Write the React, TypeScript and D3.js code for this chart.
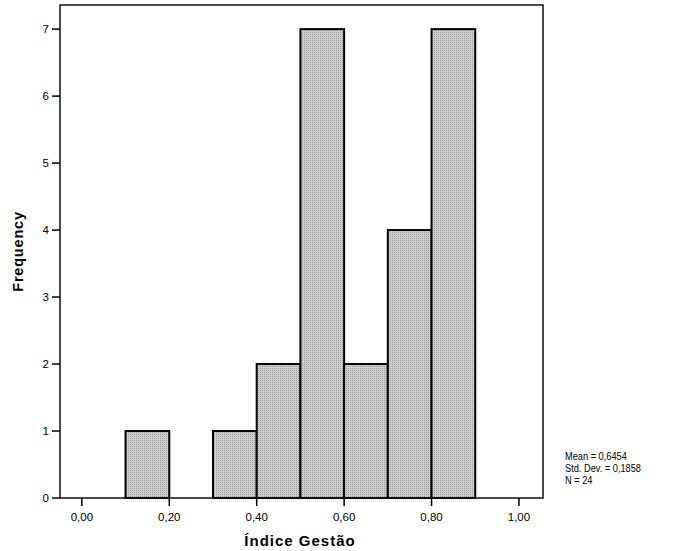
import React from "react";
import * as d3 from "d3";

const binStarts = [0.1, 0.3, 0.4, 0.5, 0.6, 0.7, 0.8];
const binWidth = 0.1;
const frequencies = [1, 1, 2, 7, 2, 4, 7];
const xTicks = [0, 0.2, 0.4, 0.6, 0.8, 1.0];
const yTicks = [0, 1, 2, 3, 4, 5, 6, 7];
const statsLines = ["Mean = 0,6454", "Std. Dev. = 0,1858", "N = 24"];

export default function App() {
  const W = 674, H = 551;
  const left = 60, right = 543, top = 5, bottom = 498;
  const x = d3.scaleLinear().domain([-0.05, 1.055]).range([left, right]);
  const y = d3.scaleLinear().domain([0, 7.36]).range([bottom, top]);
  const fmt = (v: number) => v.toFixed(2).replace(".", ",");
  const font = "Arial, 'Liberation Sans', sans-serif";
  return (
    <svg width={W} height={H} style={{ position: "absolute", left: 0, top: 0, background: "#fff" }}>
      <defs>
        <pattern id="dots" width="2" height="2" patternUnits="userSpaceOnUse">
          <rect width="2" height="2" fill="#cfcfcf" />
          <rect width="1" height="1" fill="#9c9c9c" />
        </pattern>
      </defs>
      {binStarts.map((b, i) => (
        <rect
          key={i}
          x={x(b)}
          y={y(frequencies[i])}
          width={x(b + binWidth) - x(b)}
          height={y(0) - y(frequencies[i])}
          fill="url(#dots)"
          stroke="#000"
          strokeWidth={2}
        />
      ))}
      <rect x={left} y={top} width={right - left} height={bottom - top} fill="none" stroke="#111" strokeWidth={1.5} />
      {yTicks.map((t) => (
        <g key={t}>
          <line x1={left - 8} x2={left} y1={y(t)} y2={y(t)} stroke="#000" strokeWidth={1.5} />
          <text x={left - 11} y={y(t) + 4} textAnchor="end" fontSize={11.5} fontFamily={font} fill="#000">{t}</text>
        </g>
      ))}
      {xTicks.map((t) => (
        <g key={t}>
          <line x1={x(t)} x2={x(t)} y1={bottom} y2={bottom + 8} stroke="#000" strokeWidth={1.5} />
          <text x={x(t)} y={bottom + 23} textAnchor="middle" fontSize={11.5} fontFamily={font} fill="#000">{fmt(t)}</text>
        </g>
      ))}
      <text x={300} y={546} textAnchor="middle" fontSize={15} fontWeight="bold" letterSpacing={1} fontFamily={font} fill="#000">Índice Gestão</text>
      <text transform={`translate(23,${(top + bottom) / 2}) rotate(-90)`} textAnchor="middle" fontSize={14.5} fontWeight="bold" letterSpacing={0.8} fontFamily={font} fill="#000">Frequency</text>
      <g transform="translate(565,0) scale(0.84,1)">
        {statsLines.map((s, i) => (
          <text key={i} x={0} y={460 + i * 12} fontSize={11} fontFamily={font} fill="#000">{s}</text>
        ))}
      </g>
    </svg>
  );
}
